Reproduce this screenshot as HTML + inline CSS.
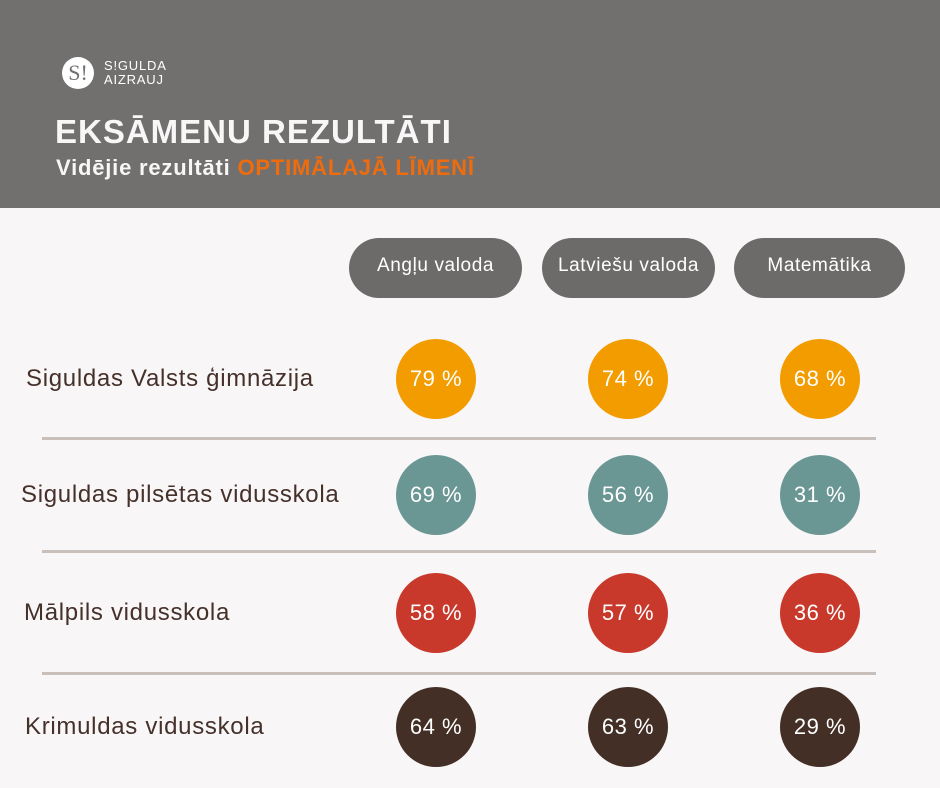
<!DOCTYPE html>
<html><head><meta charset="utf-8"><style>
body{margin:0;width:940px;height:788px;background:#f8f6f6;font-family:"Liberation Sans","DejaVu Sans",sans-serif;position:relative;overflow:hidden}
.hdr{position:absolute;left:0;top:0;width:940px;height:208px;background:#71706e}
.logo{position:absolute;left:62px;top:57px;width:32px;height:32px;border-radius:50%;background:#fff;color:#71706e;font:22px "Liberation Serif",serif;text-align:center;line-height:32px}
.lt{position:absolute;left:104px;top:59px;color:#fff;font-size:13px;line-height:14px;letter-spacing:0.8px}
.t1{position:absolute;left:55px;top:113px;color:#f8f6f6;font-weight:bold;font-size:33px;letter-spacing:1px}
.t2{position:absolute;left:56px;top:155px;color:#f8f6f6;font-weight:bold;font-size:22px;letter-spacing:0.8px}
.t2 span{color:#ee6c0e}
.pill{position:absolute;top:238px;height:60px;border-radius:30px;background:#6c6b6a;color:#fff;font-size:19px;letter-spacing:0.6px;text-align:center;line-height:56px}
.c{position:absolute;width:80px;height:80px;border-radius:50%;color:#fff;font-size:22px;letter-spacing:0.5px;text-align:center;line-height:80px}
.lab{position:absolute;color:#45302a;font-size:24px;letter-spacing:0.7px}
.div{position:absolute;left:42px;width:834px;height:3px;background:#c9c0bc}
</style></head><body>
<div class="hdr"></div>
<div class="logo">S!</div>
<div class="lt">S!GULDA<br>AIZRAUJ</div>
<div class="t1">EKSĀMENU REZULTĀTI</div>
<div class="t2">Vidējie rezultāti <span>OPTIMĀLAJĀ LĪMENĪ</span></div>
<div class="pill" style="left:349px;width:173px">Angļu valoda</div>
<div class="pill" style="left:542px;width:173px">Latviešu valoda</div>
<div class="pill" style="left:734px;width:171px">Matemātika</div>

<div class="lab" style="left:26px;top:365px">Siguldas Valsts ģimnāzija</div>
<div class="lab" style="left:21px;top:481px">Siguldas pilsētas vidusskola</div>
<div class="lab" style="left:24px;top:599px">Mālpils vidusskola</div>
<div class="lab" style="left:25px;top:713px">Krimuldas vidusskola</div>

<div class="div" style="top:437px"></div>
<div class="div" style="top:550px"></div>
<div class="div" style="top:672px"></div>

<div class="c" style="left:396px;top:339px;background:#f39c00">79 %</div>
<div class="c" style="left:588px;top:339px;background:#f39c00">74 %</div>
<div class="c" style="left:780px;top:339px;background:#f39c00">68 %</div>
<div class="c" style="left:396px;top:455px;background:#6a9694">69 %</div>
<div class="c" style="left:588px;top:455px;background:#6a9694">56 %</div>
<div class="c" style="left:780px;top:455px;background:#6a9694">31 %</div>
<div class="c" style="left:396px;top:573px;background:#c8392c">58 %</div>
<div class="c" style="left:588px;top:573px;background:#c8392c">57 %</div>
<div class="c" style="left:780px;top:573px;background:#c8392c">36 %</div>
<div class="c" style="left:396px;top:687px;background:#432f26">64 %</div>
<div class="c" style="left:588px;top:687px;background:#432f26">63 %</div>
<div class="c" style="left:780px;top:687px;background:#432f26">29 %</div>
</body></html>
